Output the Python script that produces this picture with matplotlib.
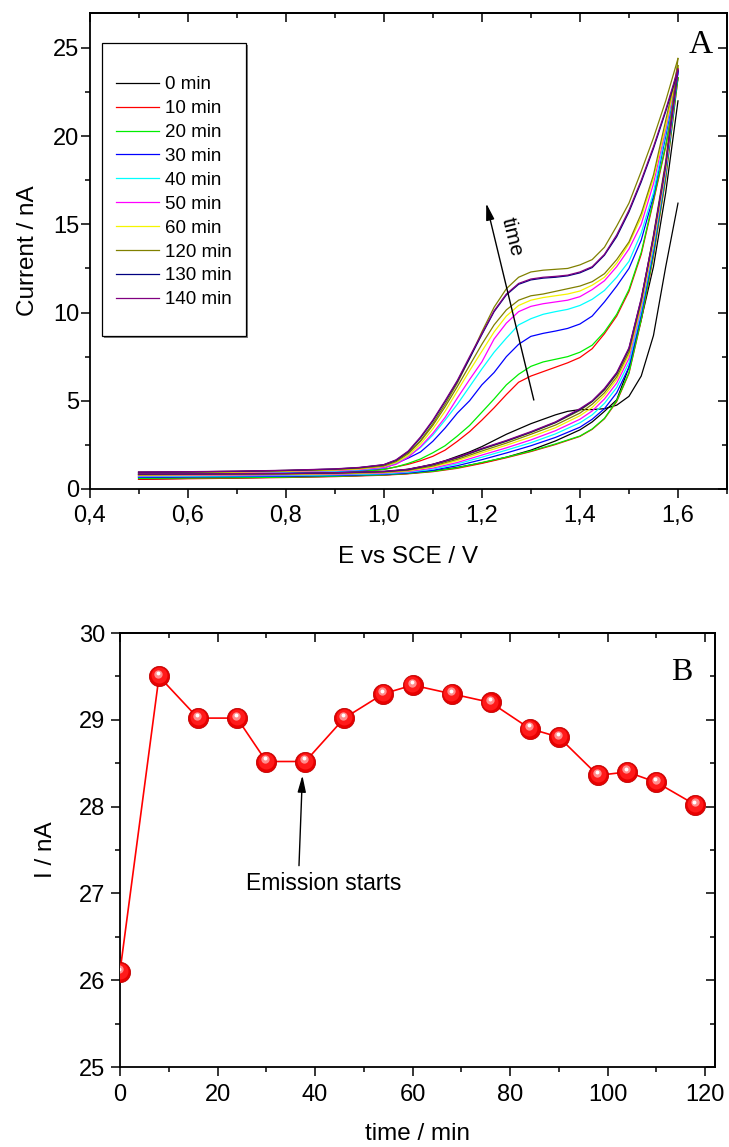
import matplotlib
matplotlib.use("Agg")
import matplotlib.pyplot as plt
from matplotlib.ticker import MultipleLocator
from matplotlib.transforms import offset_copy
from matplotlib.patches import Rectangle

plt.rcParams['font.family'] = ['Liberation Sans', 'DejaVu Sans']

# ---------------- Panel A data (cyclic voltammograms) ----------------
E_fwd = [0.50, 0.60, 0.70, 0.80, 0.90, 1.00, 1.05, 1.10, 1.15, 1.20, 1.25, 1.30,
         1.35, 1.40, 1.425, 1.45, 1.475, 1.50, 1.525, 1.55, 1.575, 1.60]
E_rev = [1.600, 1.575, 1.550, 1.525, 1.500, 1.475, 1.450, 1.425, 1.400, 1.375, 1.350,
         1.325, 1.300, 1.275, 1.250, 1.225, 1.200, 1.175, 1.150, 1.125, 1.100, 1.075,
         1.050, 1.025, 1.000, 0.950, 0.900, 0.800, 0.700, 0.600, 0.500]

fwd_0min = [0.55, 0.60, 0.63, 0.67, 0.72, 0.80, 0.88, 1.02, 1.22, 1.48, 1.80, 2.20, 2.72, 3.35, 3.80, 4.40, 5.05, 6.90, 9.60, 12.6, 16.8, 22.0]
fwd_10min = [0.55, 0.58, 0.61, 0.65, 0.70, 0.78, 0.86, 0.98, 1.17, 1.45, 1.77, 2.12, 2.52, 2.98, 3.38, 3.98, 4.95, 6.55, 9.55, 13.2, 17.6, 23.3]
fwd_20min = [0.60, 0.62, 0.64, 0.67, 0.72, 0.80, 0.88, 1.00, 1.20, 1.50, 1.80, 2.15, 2.55, 3.00, 3.40, 4.00, 5.00, 6.60, 9.60, 13.3, 17.7, 23.3]
fwd_30min = [0.66, 0.68, 0.70, 0.72, 0.76, 0.83, 0.91, 1.06, 1.32, 1.66, 2.04, 2.45, 2.92, 3.50, 3.95, 4.55, 5.45, 6.90, 9.90, 13.5, 17.9, 23.6]
fwd_40min = [0.70, 0.72, 0.74, 0.76, 0.80, 0.86, 0.95, 1.12, 1.42, 1.80, 2.20, 2.62, 3.12, 3.75, 4.20, 4.85, 5.75, 7.15, 10.1, 13.7, 18.0, 23.7]
fwd_50min = [0.74, 0.76, 0.78, 0.80, 0.83, 0.90, 0.99, 1.18, 1.50, 1.92, 2.33, 2.78, 3.30, 3.95, 4.42, 5.10, 6.00, 7.40, 10.3, 13.9, 18.1, 23.8]
fwd_60min = [0.78, 0.80, 0.81, 0.83, 0.86, 0.93, 1.03, 1.25, 1.60, 2.05, 2.48, 2.95, 3.47, 4.15, 4.62, 5.30, 6.20, 7.60, 10.45, 14.0, 18.2, 23.9]
fwd_extra = [0.80, 0.82, 0.83, 0.85, 0.88, 0.95, 1.06, 1.30, 1.68, 2.15, 2.60, 3.10, 3.62, 4.30, 4.80, 5.45, 6.35, 7.75, 10.6, 14.2, 18.3, 24.0]
fwd_120min = [0.83, 0.84, 0.85, 0.87, 0.90, 0.98, 1.10, 1.36, 1.75, 2.25, 2.70, 3.20, 3.75, 4.45, 4.95, 5.60, 6.50, 7.90, 10.7, 14.4, 18.6, 24.4]
fwd_130min = [0.84, 0.85, 0.86, 0.87, 0.91, 0.99, 1.10, 1.38, 1.78, 2.27, 2.72, 3.22, 3.77, 4.50, 4.97, 5.65, 6.55, 7.95, 10.75, 14.3, 18.4, 23.7]
fwd_140min = [0.85, 0.86, 0.87, 0.88, 0.92, 1.00, 1.12, 1.40, 1.80, 2.30, 2.75, 3.25, 3.80, 4.55, 5.00, 5.70, 6.60, 8.00, 10.8, 14.3, 18.4, 23.8]

rev_0min = [16.2, 12.6, 8.7, 6.4, 5.25, 4.75, 4.55, 4.5, 4.5, 4.4, 4.2, 3.95, 3.7, 3.4, 3.1, 2.75, 2.4, 2.1, 1.85, 1.6, 1.4, 1.25, 1.12, 1.02, 0.95, 0.88, 0.83, 0.78, 0.74, 0.70, 0.65]
rev_10min = [23.3, 19.4, 16.3, 13.3, 11.2, 9.8, 8.8, 7.95, 7.45, 7.15, 6.9, 6.65, 6.4, 6.05, 5.35, 4.6, 3.9, 3.25, 2.7, 2.2, 1.85, 1.6, 1.4, 1.25, 1.12, 0.98, 0.9, 0.82, 0.77, 0.72, 0.70]
rev_20min = [23.3, 19.5, 16.4, 13.4, 11.3, 9.9, 8.9, 8.15, 7.75, 7.5, 7.35, 7.2, 6.95, 6.5, 5.9, 5.1, 4.35, 3.6, 3.0, 2.45, 2.05, 1.7, 1.45, 1.25, 1.1, 0.98, 0.92, 0.86, 0.82, 0.79, 0.76]
rev_30min = [23.6, 20.0, 16.6, 14.1, 12.5, 11.5, 10.6, 9.8, 9.35, 9.1, 8.95, 8.82, 8.65, 8.2, 7.5, 6.6, 5.9, 5.0, 4.3, 3.45, 2.7, 2.1, 1.75, 1.45, 1.18, 1.05, 0.98, 0.92, 0.88, 0.85, 0.82]
rev_40min = [23.7, 20.2, 16.8, 14.5, 12.9, 12.0, 11.25, 10.75, 10.4, 10.18, 10.05, 9.9, 9.65, 9.3, 8.55, 7.75, 6.8, 5.8, 4.8, 3.9, 3.05, 2.35, 1.85, 1.45, 1.2, 1.07, 1.0, 0.95, 0.9, 0.87, 0.85]
rev_50min = [23.8, 20.4, 17.3, 15.0, 13.6, 12.6, 11.8, 11.3, 10.9, 10.7, 10.6, 10.5, 10.35, 10.05, 9.4, 8.5, 7.2, 6.2, 5.15, 4.05, 3.15, 2.4, 1.8, 1.4, 1.22, 1.1, 1.04, 0.98, 0.93, 0.9, 0.88]
rev_60min = [23.9, 20.6, 17.6, 15.4, 13.9, 12.8, 12.0, 11.55, 11.22, 11.05, 10.95, 10.85, 10.7, 10.4, 9.8, 8.9, 7.8, 6.7, 5.55, 4.4, 3.4, 2.55, 1.9, 1.5, 1.28, 1.13, 1.07, 1.0, 0.95, 0.92, 0.9]
rev_extra = [24.0, 20.9, 17.8, 15.6, 14.0, 13.0, 12.2, 11.75, 11.5, 11.35, 11.2, 11.05, 10.95, 10.7, 10.15, 9.3, 8.2, 7.0, 5.8, 4.65, 3.6, 2.7, 2.0, 1.55, 1.3, 1.17, 1.1, 1.03, 0.98, 0.95, 0.93]
rev_120min = [24.4, 22.0, 19.9, 18.0, 16.2, 14.9, 13.7, 13.0, 12.7, 12.5, 12.45, 12.4, 12.3, 12.0, 11.35, 10.3, 8.9, 7.4, 6.0, 4.8, 3.7, 2.75, 2.05, 1.6, 1.35, 1.2, 1.12, 1.05, 1.0, 0.97, 0.95]
rev_130min = [23.7, 21.4, 19.3, 17.4, 15.7, 14.3, 13.25, 12.55, 12.25, 12.08, 12.0, 11.95, 11.85, 11.6, 11.0, 10.05, 8.75, 7.4, 6.1, 4.95, 3.85, 2.9, 2.12, 1.63, 1.37, 1.21, 1.13, 1.05, 1.0, 0.97, 0.95]
rev_140min = [23.8, 21.5, 19.4, 17.5, 15.8, 14.4, 13.3, 12.6, 12.3, 12.12, 12.05, 12.0, 11.9, 11.65, 11.05, 10.1, 8.8, 7.5, 6.15, 5.0, 3.9, 2.95, 2.15, 1.65, 1.38, 1.22, 1.14, 1.06, 1.01, 0.98, 0.96]

cv_labels = ['0 min', '10 min', '20 min', '30 min', '40 min', '50 min', '60 min',
             None, '120 min', '130 min', '140 min']
cv_colors = ['#000000', '#ff0000', '#00ee00', '#0000ff', '#00ffff', '#ff00ff',
             '#f5f500', '#808000', '#808000', '#000080', '#800080']
cv_fwd = [fwd_0min, fwd_10min, fwd_20min, fwd_30min, fwd_40min, fwd_50min,
          fwd_60min, fwd_extra, fwd_120min, fwd_130min, fwd_140min]
cv_rev = [rev_0min, rev_10min, rev_20min, rev_30min, rev_40min, rev_50min,
          rev_60min, rev_extra, rev_120min, rev_130min, rev_140min]

xticks_A = [0.4, 0.6, 0.8, 1.0, 1.2, 1.4, 1.6]
xticklabels_A = ['0,4', '0,6', '0,8', '1,0', '1,2', '1,4', '1,6']
yticks_A = [0, 5, 10, 15, 20, 25]

# ---------------- Panel B data ----------------
time_min = [0, 8, 16, 24, 30, 38, 46, 54, 60, 68, 76, 84, 90, 98, 104, 110, 118]
current_nA = [26.1, 29.5, 29.02, 29.02, 28.52, 28.52, 29.02, 29.3, 29.4, 29.3,
              29.2, 28.9, 28.8, 28.36, 28.4, 28.28, 28.02]
xticks_B = [0, 20, 40, 60, 80, 100, 120]
yticks_B = [25, 26, 27, 28, 29, 30]

# ---------------- figure ----------------
fig = plt.figure(figsize=(7.29, 11.47), dpi=100)
axA = fig.add_axes([0.1228, 0.5737, 0.8745, 0.4153])
axB = fig.add_axes([0.1646, 0.0697, 0.8162, 0.3784])

SPINE_W = 1.3
TICK_W = 1.1
MAJ_L = 6.5
MIN_L = 3.3
TICK_FS = 17
LABEL_FS = 17.5


def style_axes(ax, xmaj, xminor, ymaj, yminor, xpad, ypad):
    for s in ax.spines.values():
        s.set_linewidth(SPINE_W)
    ax.set_xticks(xmaj)
    ax.set_yticks(ymaj)
    ax.xaxis.set_minor_locator(MultipleLocator(xminor))
    ax.yaxis.set_minor_locator(MultipleLocator(yminor))
    ax.tick_params(which='both', direction='out', width=TICK_W, top=False, right=False,
                   labelsize=TICK_FS)
    ax.tick_params(which='major', length=MAJ_L)
    ax.tick_params(which='minor', length=MIN_L)
    ax.tick_params(axis='x', pad=xpad)
    ax.tick_params(axis='y', pad=ypad)
    sx = ax.secondary_xaxis('top')
    sx.set_xticks(xmaj)
    sx.xaxis.set_minor_locator(MultipleLocator(xminor))
    sx.tick_params(which='both', direction='in', width=TICK_W, labeltop=False)
    sx.tick_params(which='major', length=MAJ_L)
    sx.tick_params(which='minor', length=MIN_L)
    sx.spines['top'].set_linewidth(SPINE_W)
    sy = ax.secondary_yaxis('right')
    sy.set_yticks(ymaj)
    sy.yaxis.set_minor_locator(MultipleLocator(yminor))
    sy.tick_params(which='both', direction='in', width=TICK_W, labelright=False)
    sy.tick_params(which='major', length=MAJ_L)
    sy.tick_params(which='minor', length=MIN_L)
    sy.spines['right'].set_linewidth(SPINE_W)


# ---- Panel A ----
handles = []
for lab, col, fw, rv in zip(cv_labels, cv_colors, cv_fwd, cv_rev):
    ln, = axA.plot(E_fwd, fw, color=col, lw=0.9, solid_joinstyle='round',
                   label=lab if lab else '_nolegend_')
    axA.plot(E_rev, rv, color=col, lw=0.9, solid_joinstyle='round')
    if lab:
        handles.append(ln)

axA.set_xlim(0.4, 1.7)
axA.set_ylim(0, 27)
style_axes(axA, xticks_A, 0.1, yticks_A, 2.5, 5, 1)
axA.set_xticks(xticks_A, labels=xticklabels_A)
axA.set_xlabel('E vs SCE / V', fontsize=LABEL_FS, labelpad=14)
axA.set_ylabel('Current / nA', fontsize=LABEL_FS, labelpad=10)

# legend frame with shadow
shadow = Rectangle((0.0191 + 0.003, 0.3212 - 0.004), 0.2259, 0.6158,
                   transform=axA.transAxes, facecolor='#808080', edgecolor='none', zorder=4)
frame = Rectangle((0.0191, 0.3212), 0.2259, 0.6158, transform=axA.transAxes,
                  facecolor='white', edgecolor='black', lw=0.9, zorder=5)
axA.add_patch(shadow)
axA.add_patch(frame)
leg = axA.legend(handles=handles, loc='upper left', bbox_to_anchor=(0.0416, 0.8664),
                 borderaxespad=0, borderpad=0, frameon=False, fontsize=13.5,
                 handlelength=2.3, handletextpad=0.3, labelspacing=0.36)
leg.set_zorder(6)

axA.annotate('', xy=(1.209, 16.19), xytext=(1.306, 5.04),
             arrowprops=dict(arrowstyle='-|>,head_length=1.0,head_width=0.25',
                             color='black', lw=1.0, shrinkA=0, shrinkB=0))
axA.text(1.261, 14.3, 'time', rotation=-76, ha='center', va='center', fontsize=15)
axA.text(0.959, 0.9148, 'A', transform=axA.transAxes, ha='center', va='baseline',
         fontsize=24, family='Liberation Serif')

# ---- Panel B ----
axB.plot(time_min, current_nA, '-', color='#ff0000', lw=1.2, zorder=3)
axB.plot(time_min, current_nA, 'o', ms=14.5, mfc='#e80000', mec='#c00000', mew=0.6, zorder=4)
axB.plot(time_min, current_nA, 'o', ms=11.5, mfc='#ff1a1a', mec='none', zorder=5,
         transform=offset_copy(axB.transData, fig, x=-0.3, y=0.7, units='points'))
axB.plot(time_min, current_nA, 'o', ms=6.0, mfc='#ff8c8c', mec='none', zorder=6,
         transform=offset_copy(axB.transData, fig, x=-0.7, y=1.8, units='points'))
axB.plot(time_min, current_nA, 'o', ms=2.8, mfc='#ffffff', mec='none', zorder=7,
         transform=offset_copy(axB.transData, fig, x=-0.8, y=2.2, units='points'))

axB.set_xlim(0, 122)
axB.set_ylim(25, 30)
style_axes(axB, xticks_B, 10, yticks_B, 0.5, 6, 4)
axB.set_xlabel('time / min', fontsize=LABEL_FS, labelpad=12)
axB.set_ylabel('I / nA', fontsize=LABEL_FS, labelpad=16)

axB.annotate('', xy=(37.4, 28.36), xytext=(36.7, 27.32),
             arrowprops=dict(arrowstyle='-|>,head_length=1.0,head_width=0.25',
                             color='black', lw=1.0, shrinkA=0, shrinkB=0))
axB.text(41.7, 27.12, 'Emission starts', ha='center', va='center', fontsize=16.5)
axB.text(0.9445, 0.8917, 'B', transform=axB.transAxes, ha='center', va='baseline',
         fontsize=23, family='Liberation Serif')

fig.savefig('out.png', dpi=100)
